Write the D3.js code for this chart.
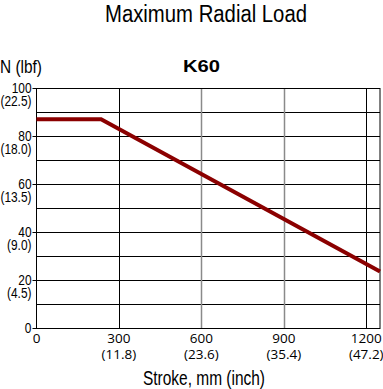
<!DOCTYPE html>
<html><head><meta charset="utf-8">
<script src="https://cdn.jsdelivr.net/npm/d3@7"></script>
<style>body{margin:0;background:#fff;}svg{display:block;}</style>
</head><body>
<svg id="c" width="383" height="389"></svg>
<script>
const strokeMm = [0, 235, 1250];
const loadN = [87, 87, 23.5];
const xTicks = [0, 300, 600, 900, 1200];
const xTickInch = ["", "(11.8)", "(23.6)", "(35.4)", "(47.2)"];
const yTicks = [0, 20, 40, 60, 80, 100];
const yTickLbf = ["", "(4.5)", "(9.0)", "(13.5)", "(18.0)", "(22.5)"];
const yGrid = [10, 20, 30, 40, 50, 60, 70, 80, 90];
const vGrid = [300, 600, 900, 1200];
const vGridGray = [600, 900];

const svg = d3.select("#c");
const L = 36.5, R = 380, T = 88, B = 328;
const x = d3.scaleLinear().domain([0, 1250]).range([L, R]);
const y = d3.scaleLinear().domain([0, 100]).range([B, T]);
const sans = "'Liberation Sans', Arial, sans-serif";

svg.append("text").attr("x", 105).attr("y", 22)
  .attr("textLength", 202).attr("lengthAdjust", "spacingAndGlyphs")
  .style("font-family", sans).style("font-size", "23.5px").attr("fill", "#000").text("Maximum Radial Load");
svg.append("text").attr("x", 183).attr("y", 72)
  .attr("textLength", 37).attr("lengthAdjust", "spacingAndGlyphs")
  .style("font-family", sans).style("font-weight", "bold").style("font-size", "17px").text("K60");
svg.append("text").attr("x", 0).attr("y", 73)
  .attr("textLength", 42).attr("lengthAdjust", "spacingAndGlyphs")
  .style("font-family", sans).style("font-size", "19px").text("N (lbf)");

// horizontal grid
svg.append("g").selectAll("line").data(yGrid).join("line")
  .attr("x1", L).attr("x2", R).attr("y1", d => Math.round(y(d)) + 0.5).attr("y2", d => Math.round(y(d)) + 0.5)
  .attr("stroke", "#000").attr("stroke-width", 1);
// vertical grid
svg.append("g").selectAll("line").data(vGrid).join("line")
  .attr("x1", d => Math.round(x(d)) + 0.5).attr("x2", d => Math.round(x(d)) + 0.5).attr("y1", T).attr("y2", B)
  .attr("stroke", d => vGridGray.includes(d) ? "#8a8a8a" : "#000").attr("stroke-width", d => vGridGray.includes(d) ? 1.5 : 1);
// border
svg.append("rect").attr("x", L).attr("y", T + 0.5).attr("width", R - L).attr("height", B - T)
  .attr("fill", "none").attr("stroke", "#000").attr("stroke-width", 1);

// y axis ticks
const ya = svg.append("g").attr("transform", `translate(${L},0)`)
  .call(d3.axisLeft(y).tickValues(yTicks).tickSize(4).tickSizeOuter(0).tickFormat(""));
ya.select(".domain").remove();
ya.selectAll("line").attr("stroke", "#000");
const yl = svg.append("g").selectAll("g").data(yTicks).join("g");
yl.append("text").attr("transform", d => `translate(31.5,${y(d) + 4.5}) scale(0.85,1)`).attr("text-anchor", "end")
  .style("font-family", sans).style("font-size", "14px").text(d => d);
yl.append("text").attr("transform", d => `translate(31.5,${y(d) + 18}) scale(0.85,1)`).attr("text-anchor", "end")
  .style("font-family", sans).style("font-size", "14px").text((d, i) => yTickLbf[i]);

// x axis labels
const xa = svg.append("g").attr("transform", `translate(0,${B})`)
  .call(d3.axisBottom(x).tickValues(xTicks).tickSize(0).tickFormat(""));
xa.select(".domain").remove();
const xl = svg.append("g").selectAll("g").data(xTicks).join("g");
xl.append("text").attr("x", d => x(d)).attr("y", 343).attr("text-anchor", "middle")
  .style("font-family", "'Open Sans', sans-serif").style("font-size", "13.5px").text(d => d);
xl.append("text").attr("x", d => x(d)).attr("y", 358.5).attr("text-anchor", "middle")
  .style("font-family", "'Open Sans', sans-serif").style("font-size", "13.5px").text((d, i) => xTickInch[i]);
svg.append("text").attr("x", 143).attr("y", 385)
  .attr("textLength", 122).attr("lengthAdjust", "spacingAndGlyphs")
  .style("font-family", sans).style("font-size", "20px").text("Stroke, mm (inch)");

// data line
const pts = strokeMm.map((d, i) => [d, loadN[i]]);
svg.append("path").datum(pts)
  .attr("d", d3.line().x(d => x(d[0])).y(d => y(d[1])))
  .attr("fill", "none").attr("stroke", "#8b0000").attr("stroke-width", 4);
</script>
</body></html>
